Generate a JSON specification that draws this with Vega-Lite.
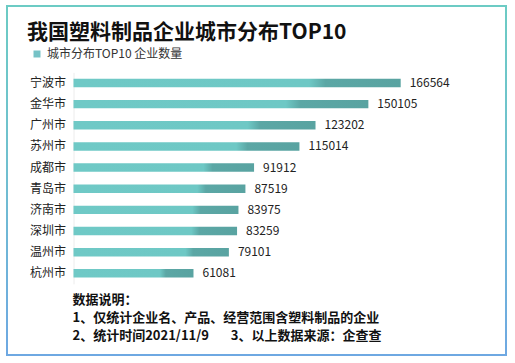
{
  "$schema": "https://vega.github.io/schema/vega-lite/v6.json",
  "autosize": "none",
  "width": 499,
  "height": 349,
  "padding": {"left": 7, "top": 6, "right": 9, "bottom": 8},
  "background": "white",
  "config": {
    "font": "Noto Sans CJK SC",
    "view": {"stroke": {"gradient": "linear", "x1": 0, "y1": 0, "x2": 0, "y2": 1, "stops": [{"offset": 0, "color": "#6ccbc4"}, {"offset": 0.45, "color": "#70c0cf"}, {"offset": 1, "color": "#6ea8e2"}]}, "strokeWidth": 2}
  },
  "title": {
    "text": "我国塑料制品企业城市分布TOP10",
    "anchor": "start",
    "fontSize": 21,
    "fontWeight": "bold",
    "color": "#111111",
    "dx": 20,
    "offset": -37,
    "font": "Noto Sans CJK SC"
  },
  "data": {
    "values": [
      {"city": "宁波市", "count": 166564, "series": "城市分布TOP10 企业数量"},
      {"city": "金华市", "count": 150105, "series": "城市分布TOP10 企业数量"},
      {"city": "广州市", "count": 123202, "series": "城市分布TOP10 企业数量"},
      {"city": "苏州市", "count": 115014, "series": "城市分布TOP10 企业数量"},
      {"city": "成都市", "count": 91912, "series": "城市分布TOP10 企业数量"},
      {"city": "青岛市", "count": 87519, "series": "城市分布TOP10 企业数量"},
      {"city": "济南市", "count": 83975, "series": "城市分布TOP10 企业数量"},
      {"city": "深圳市", "count": 83259, "series": "城市分布TOP10 企业数量"},
      {"city": "温州市", "count": 79101, "series": "城市分布TOP10 企业数量"},
      {"city": "杭州市", "count": 61081, "series": "城市分布TOP10 企业数量"}
    ]
  },
  "encoding": {
    "y": {
      "field": "city",
      "type": "nominal",
      "sort": null,
      "scale": {"range": [66.4, 277.9], "paddingInner": 0.6, "paddingOuter": 0.3},
      "axis": {
        "title": null,
        "offset": -66.5,
        "ticks": false,
        "domainColor": "#ececec",
        "domainWidth": 1,
        "labelPadding": 8,
        "labelFontSize": 12,
        "labelColor": "#222222",
        "labelFont": "Noto Sans CJK SC"
      }
    },
    "x": {
      "field": "count",
      "type": "quantitative",
      "scale": {"domain": [0, 166564], "range": [66.5, 393.7], "nice": false, "zero": true},
      "axis": {
        "title": ["数据说明：", "1、仅统计企业名、产品、经营范围含塑料制品的企业", "2、统计时间2021/11/9　\u00a0\u00a0\u00a03、以上数据来源：企查查"],
        "titleAnchor": "start",
        "titleAlign": "left",
        "titleBaseline": "top",
        "titleFontSize": 13,
        "titleFontWeight": "bold",
        "titleColor": "#111111",
        "titleLineHeight": 18,
        "titleFont": "Noto Sans CJK SC",
        "titlePadding": 0,
        "titleX": 65,
        "offset": -62,
        "labels": false,
        "ticks": false,
        "domain": false,
        "grid": false
      }
    }
  },
  "layer": [
    {
      "mark": {
        "type": "bar",
        "fill": {"gradient": "linear", "x1": 0, "y1": 0, "x2": 1, "y2": 0, "stops": [
          {"offset": 0, "color": "#6fc9c6"},
          {"offset": 0.72, "color": "#6ec8c5"},
          {"offset": 0.77, "color": "#5ba7a5"},
          {"offset": 1, "color": "#59a3a1"}
        ]}
      }
    },
    {
      "mark": {"type": "text", "align": "left", "baseline": "middle", "dx": 9, "fontSize": 12, "color": "#222222", "font": "Noto Sans CJK SC"},
      "encoding": {"text": {"field": "count", "type": "quantitative", "format": "d"}}
    },
    {
      "mark": {"type": "point", "shape": "square", "filled": true, "opacity": 0},
      "encoding": {
        "color": {
          "field": "series",
          "type": "nominal",
          "scale": {"range": ["#76c2c6"]},
          "legend": {
            "title": null,
            "orient": "none",
            "legendX": 24,
            "legendY": 42,
            "padding": 0,
            "symbolType": "square",
            "symbolSize": 49,
            "symbolOpacity": 1,
            "symbolFillColor": "#76c2c6",
            "symbolStrokeWidth": 0,
            "labelFontSize": 12,
            "labelColor": "#333333",
            "labelFont": "Noto Sans CJK SC",
            "labelOffset": 4
          }
        }
      }
    }
  ]
}
